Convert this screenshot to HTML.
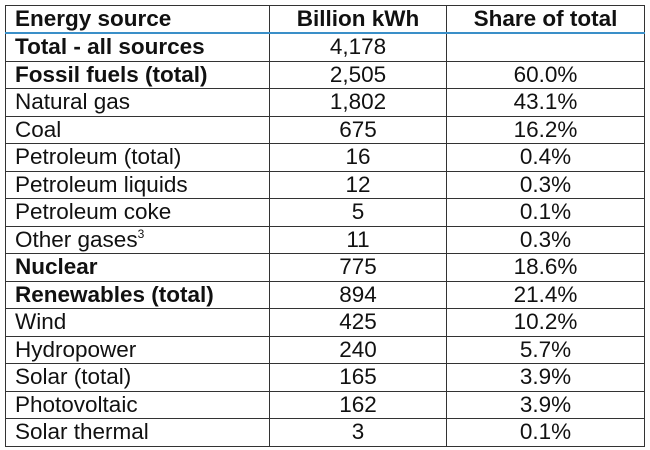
<!DOCTYPE html><html><head><style>
body{margin:0;width:650px;height:450px;background:#fff;overflow:hidden;font-family:"Liberation Sans",Arial,sans-serif;}
table{position:absolute;left:5px;top:5px;border-collapse:collapse;width:640px;}
td{border:1.5px solid #333;height:26.5px;padding:0 0 0 9px;font-size:22.5px;color:#111;line-height:1;}
td.c{text-align:center;padding:0;}
col.a{width:264px}col.b{width:177px}
tr.h td{border-bottom:2px solid #3a8fc8;font-weight:bold;height:26px;}
tr.b td:first-child{font-weight:bold;}
sup{font-size:12px;vertical-align:9px;}
</style></head><body>
<table><colgroup><col class="a"><col class="b"><col></colgroup>
<tr class="h"><td>Energy source</td><td class="c">Billion kWh</td><td class="c">Share of total</td></tr>
<tr class="b"><td>Total - all sources</td><td class="c">4,178</td><td class="c"></td></tr>
<tr class="b"><td>Fossil fuels (total)</td><td class="c">2,505</td><td class="c">60.0%</td></tr>
<tr><td>Natural gas</td><td class="c">1,802</td><td class="c">43.1%</td></tr>
<tr><td>Coal</td><td class="c">675</td><td class="c">16.2%</td></tr>
<tr><td>Petroleum (total)</td><td class="c">16</td><td class="c">0.4%</td></tr>
<tr><td>Petroleum liquids</td><td class="c">12</td><td class="c">0.3%</td></tr>
<tr><td>Petroleum coke</td><td class="c">5</td><td class="c">0.1%</td></tr>
<tr><td>Other gases<sup>3</sup></td><td class="c">11</td><td class="c">0.3%</td></tr>
<tr class="b"><td>Nuclear</td><td class="c">775</td><td class="c">18.6%</td></tr>
<tr class="b"><td>Renewables (total)</td><td class="c">894</td><td class="c">21.4%</td></tr>
<tr><td>Wind</td><td class="c">425</td><td class="c">10.2%</td></tr>
<tr><td>Hydropower</td><td class="c">240</td><td class="c">5.7%</td></tr>
<tr><td>Solar (total)</td><td class="c">165</td><td class="c">3.9%</td></tr>
<tr><td>Photovoltaic</td><td class="c">162</td><td class="c">3.9%</td></tr>
<tr><td>Solar thermal</td><td class="c">3</td><td class="c">0.1%</td></tr>
</table></body></html>
